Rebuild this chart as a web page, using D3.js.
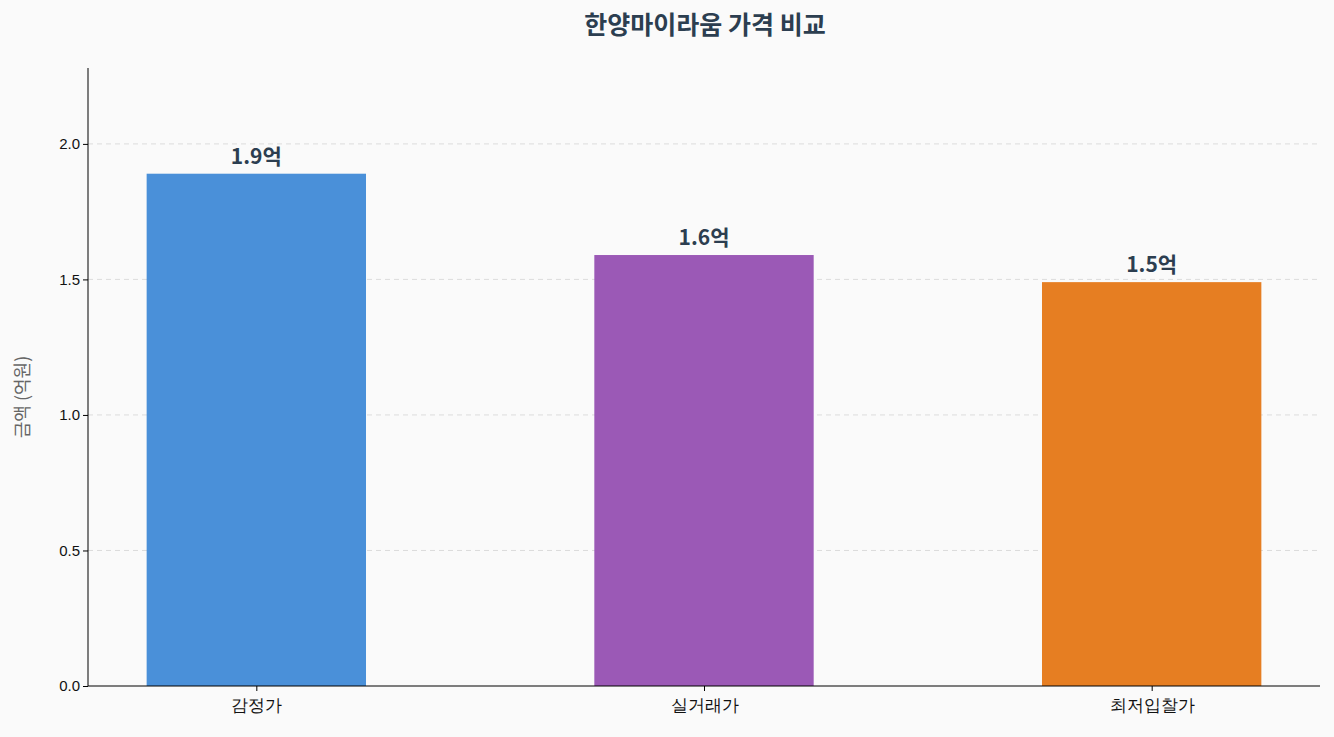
<!DOCTYPE html>
<html><head><meta charset="utf-8">
<script src="https://cdn.jsdelivr.net/npm/d3@7"></script>
<style>
  body { margin: 0; background: #fafafa; font-family: "Noto Sans CJK KR", "Noto Sans", sans-serif; }
</style></head>
<body><svg id="chart" width="1334" height="737"></svg>
<script>
/* ── Data ── */
const categories = ['감정가', '실거래가', '최저입찰가'];
const values = [1.89, 1.59, 1.49];
const labels = ['1.9억', '1.6억', '1.5억'];
const colors = ['#4a90d9', '#9b59b6', '#e67e22'];
const yTicks = [0.0, 0.5, 1.0, 1.5, 2.0];

const m = { left: 88, right: 1320, top: 68, bottom: 686 };
const svg = d3.select('#chart');
svg.append('rect').attr('width', 1334).attr('height', 737).attr('fill', '#fafafa');

const x = d3.scaleLinear().domain([-0.376, 2.376]).range([m.left, m.right]);
const y = d3.scaleLinear().domain([0, 2.28]).range([m.bottom, m.top]);
const barW = 0.49;

// grid
svg.append('g').selectAll('line').data(yTicks.slice(1)).join('line')
  .attr('x1', m.left).attr('x2', m.right)
  .attr('y1', d => y(d)).attr('y2', d => y(d))
  .attr('stroke', '#dcdcdc').attr('stroke-dasharray', '5,4').attr('stroke-width', 1);

// bars
svg.append('g').selectAll('rect').data(values).join('rect')
  .attr('x', (d, i) => x(i - barW / 2)).attr('width', x(barW) - x(0))
  .attr('y', d => y(d)).attr('height', d => y(0) - y(d))
  .attr('fill', (d, i) => colors[i]);

// value labels
svg.append('g').selectAll('text').data(values).join('text')
  .attr('x', (d, i) => x(i)).attr('y', d => y(d) - 10)
  .attr('text-anchor', 'middle').attr('font-size', 21).attr('font-weight', 'bold')
  .attr('fill', '#2c3e50').text((d, i) => labels[i]);

// axes
const yAxis = d3.axisLeft(y).tickValues(yTicks).tickFormat(d3.format('.1f')).tickSize(5);
svg.append('g').attr('transform', `translate(${m.left},0)`).call(yAxis)
  .call(g => g.select('.domain').attr('d', `M-0,${m.bottom}V${m.top}`))
  .call(g => g.selectAll('text').attr('font-size', 15).attr('fill', '#111').attr('font-family', 'inherit'));

const xAxis = d3.axisBottom(x).tickValues([0, 1, 2]).tickFormat(i => categories[i]).tickSize(5);
svg.append('g').attr('transform', `translate(0,${m.bottom})`).call(xAxis)
  .call(g => g.select('.domain').attr('d', `M${m.left},0H${m.right}`))
  .call(g => g.selectAll('text').attr('font-size', 17).attr('fill', '#111').attr('dy', '1em').attr('font-family', 'inherit'));

// titles
svg.append('text').attr('x', 705).attr('y', 34).attr('text-anchor', 'middle')
  .attr('font-size', 25).attr('font-weight', 'bold').attr('fill', '#2c3e50').text('한양마이라움 가격 비교');
svg.append('text').attr('transform', `translate(29,${(m.top + m.bottom) / 2 + 20}) rotate(-90)`)
  .attr('text-anchor', 'middle').attr('font-size', 18).attr('fill', '#666').text('금액 (억원)');
</script></body></html>
